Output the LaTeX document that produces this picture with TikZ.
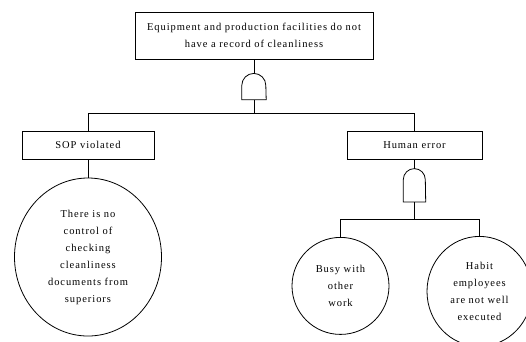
\documentclass[tikz,border=0pt]{standalone}
\usepackage{fontspec}
\setmainfont{Liberation Serif}[LetterSpace=9]
\usetikzlibrary{positioning, shapes.geometric}

% AND gate outline drawn around an empty node (#1 = node, #2 = dome radius)
\newcommand{\andgate}[2]{%
    \draw[line width=0.8pt] (#1.south west) -- ([yshift=-#2]#1.north west)
        arc[start angle=180, end angle=0, radius=#2] -- (#1.south east) -- cycle;}

\begin{document}
\begin{tikzpicture}[
    node distance=17pt, % vertical gaps between levels
    every node/.style={inner sep=0pt, align=center,
        font=\fontsize{10.5}{17}\selectfont}, % text of all nodes
    event/.style={draw, rectangle, line width=0.8pt, minimum height=28pt},
    basic/.style={draw, ellipse, line width=0.8pt},
    link/.style={line width=0.8pt}
]
    \useasboundingbox (0,0) rectangle (526pt,-341pt);

    % 1. Top event and first gate
    \node[event, minimum width=238pt, minimum height=47pt] (top) at (254pt,-35.5pt)
        {Equipment and production facilities do not\\have a record of cleanliness};
    \node[minimum width=24pt, minimum height=26pt] (g1) [below=14pt of top] {};
    \coordinate[below=14pt of g1] (j1);

    % 2. Intermediate events
    \node[event, minimum width=132pt] (sop) [below=of j1, xshift=-166pt] {SOP violated};
    \node[event, minimum width=135pt] (human) [below=of j1, xshift=160.5pt] {Human error};

    % 3. Basic event under SOP violated
    \node[basic, minimum width=147pt, minimum height=158pt] (control) [below=18pt of sop]
        {There is no\\control of\\checking\\cleanliness\\documents from\\superiors};

    % 4. Second gate and its basic events
    \node[minimum width=22pt, minimum height=33pt] (g2) [below=9pt of human] {};
    \coordinate[below=of g2] (j2);
    \node[basic, minimum width=97pt, minimum height=97pt] (busy) [below=18pt of j2, xshift=-74pt]
        {Busy with\\other\\work};
    \node[basic, minimum width=105pt, minimum height=110pt] (habit) [below=of j2, xshift=65pt]
        {Habit\\employees\\are not well\\executed};

    % 5. Gates and connectors
    \andgate{g1}{12pt}
    \andgate{g2}{11pt}
    \draw[link] (top) -- (g1);
    \draw[link] (g1) -- (j1);
    \draw[link] (j1) -| (sop);
    \draw[link] (j1) -| (human);
    \draw[link] (sop) -- (control);
    \draw[link] (human) -- (g2);
    \draw[link] (g2) -- (j2);
    \draw[link] (j2) -| (busy);
    \draw[link] (j2) -| (habit);

\end{tikzpicture}
\end{document}
